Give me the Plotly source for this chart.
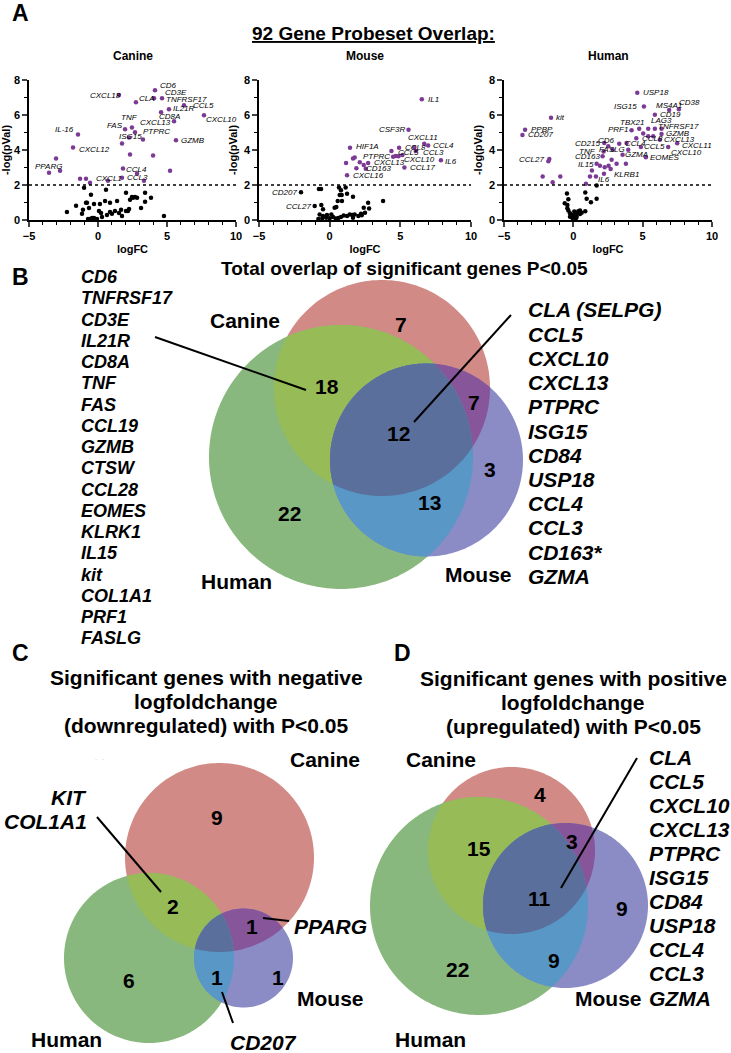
import numpy as np
import plotly.graph_objects as go

W, H = 731, 1053
FONT = "Liberation Sans, Arial, sans-serif"

# ---------------- panel A data: volcano plots (logFC, -log(pVal)) ----------------
CANINE_SIG_FC = [4.13, 1.52, 4.06, 4.64, 2.75, 6.23, 5.14, 7.68, 4.57, 5.51, 2.46, 1.96, 2.68,
                 -1.45, 2.25, 3.26, 5.65, 1.74, -1.81, 2.32, 3.99, -3.04, -3.55, -2.75, 1.81,
                 2.83, 5.22, -1.30, -0.87, -0.58, 0.72, 1.74, 3.33]
CANINE_SIG_P = [7.42, 7.14, 6.96, 6.96, 6.73, 6.56, 6.33, 5.99, 6.16, 5.64, 5.29, 5.18, 5.01,
                4.89, 4.72, 4.60, 4.55, 4.37, 4.14, 3.74, 3.68, 3.51, 2.70, 2.82, 2.94,
                2.65, 2.82, 2.36, 2.36, 2.13, 2.24, 2.42, 2.24]
CANINE_SIG_GENE = ["CD6", "CXCL18", "TNFRSF17", "CD3E", "CLA", "CCL5", "IL21R", "CXCL10", "CD8A",
                   "CXCL13", "TNF", "FAS", "", "IL-16", "ISG15", "PTPRC", "GZMB", "", "CXCL12",
                   "", "", "", "PPARG", "", "CCL4", "CCL3", "", "", "CXCL1", "", "", "", ""]
CANINE_NS_FC = [-1.01, -1.59, -2.25, -0.51, -0.80, -0.65, -1.09, -1.16, -0.87, -0.29, 0.07, 0.14,
                0.58, 0.51, 0.87, 1.38, 0.87, 1.23, 1.52, 1.67, 1.74, 2.03, 2.17, 2.25, 2.03,
                2.32, 2.46, 2.54, 2.68, 2.83, 3.12, 3.41, 3.84, 3.41, 4.78, 0.29, -0.43, -0.29,
                -0.07, -0.72, -0.58, 0.65, 1.01, 0.22]
CANINE_NS_P = [1.84, 0.81, 0.46, 1.44, 0.98, 0.69, 0.58, 0.35, 0.98, 0.92, 0.52, 0.92,
               1.73, 1.09, 0.98, 1.09, 0.46, 0.52, 0.40, 0.58, 0.23, 0.52, 0.52, 0.63, 1.55,
               1.15, 1.32, 1.27, 1.32, 1.27, 0.69, 1.04, 1.27, 1.55, 0.23, 0.17, 0.12, 0.12,
               0.06, 0.06, 0.06, 0.29, 0.35, 0.40]

MOUSE_SIG_FC = [6.52, 5.58, 6.69, 6.97, 5.98, 6.09, 1.44, 4.37, 4.91, 4.68, 5.15, 1.77, 1.65,
                1.16, 2.13, 2.72, 2.41, 7.87, 5.29, 1.89, 2.55, 1.23, 4.49, 4.87]
MOUSE_SIG_P = [6.90, 5.16, 4.36, 4.25, 4.15, 3.94, 4.13, 3.94, 4.13, 3.66, 3.71, 3.57, 3.52,
               3.26, 3.30, 3.26, 3.14, 3.41, 3.00, 2.95, 2.93, 2.55, 3.62, 3.64]
MOUSE_SIG_GENE = ["IL1", "CSF3R", "CXCL11", "CCL4", "CCL8", "CCL3", "HIF1A", "", "", "CCL5",
                  "CXCL10", "", "", "", "PTPRC", "CXCL13", "", "IL6", "CCL17", "", "CD163",
                  "CXCL16", "", ""]
MOUSE_NS_FC = [-2.03, -1.06, -0.76, -0.61, 0.66, 0.80, 1.13, 0.71, 0.85, 1.23, 1.65, 0.57, 0.87,
               0.35, 0.47, -0.59, 3.78, 2.72, 2.79, 2.50, 2.22, 1.77, 1.61, 1.42, 1.23, 0.99,
               -0.47, -0.71, -0.47, -0.24, 0.00, 0.24, 0.43, 0.61, 0.80, -0.52, -0.80, -0.19,
               0.12, 2.03, 2.27, 1.65, 2.41]
MOUSE_NS_P = [1.58, 0.80, 1.77, 1.77, 1.85, 1.70, 1.85, 1.43, 1.43, 1.50, 1.33, 1.09, 1.09,
              0.70, 0.74, 0.86, 1.09, 0.99, 0.65, 0.42, 0.36, 0.32, 0.29, 0.32, 0.23, 0.25,
              0.61, 0.32, 0.23, 0.13, 0.10, 0.17, 0.08, 0.11, 0.17, 0.10, 0.06, 0.29,
              0.32, 0.23, 0.27, 0.13, 0.70]
MOUSE_NS_GENE = ["CD207", "CCL27"] + [""] * 41

HUMAN_SIG_FC = [4.61, 5.09, 6.91, 7.61, 5.88, -1.61, -3.48, -3.67, 5.40, 4.75, 5.88, 4.20, 6.36,
                5.04, 5.40, 4.54, 6.24, 7.49, 6.84, 2.23, 3.31, 3.84, 4.87, 2.52, 2.83, 2.18,
                3.96, 2.11, 3.55, 5.23, -1.73, -1.80, 1.68, 3.79, 2.69, 1.92, 2.26, 2.54, 1.34,
                2.21, -2.21, -0.94, -1.49, 1.20, 0.91, 1.63, 2.76, 3.12, 5.76, 6.36]
HUMAN_SIG_P = [7.27, 6.49, 6.28, 6.33, 6.01, 5.84, 5.15, 4.86, 5.21, 5.21, 5.21, 5.13, 4.92,
               4.94, 4.78, 4.67, 4.59, 4.38, 4.17, 4.40, 4.36, 4.40, 4.17, 4.21, 4.02, 3.92,
               4.02, 3.64, 3.73, 3.58, 3.48, 3.35, 3.22, 3.22, 2.91, 3.10, 3.02, 3.10, 2.83,
               2.64, 2.49, 2.49, 2.16, 2.49, 2.07, 2.49, 3.44, 3.22, 4.78, 5.21]
HUMAN_SIG_GENE = ["USP18", "ISG15", "MS4A1", "CD38", "CD19", "kit", "PPBP", "CD207", "LAG3",
                  "TBX21", "TNFRSF17", "PRF1", "GZMB", "", "", "CCL8", "CXCL13", "CXCL11",
                  "CXCL10", "CD215", "CD6", "CCL4", "CCL5", "", "", "TNF", "FASLG", "CD163",
                  "GZMA", "EOMES", "CCL27", "", "IL15", "", "KLRB1", "", "", "", "", "IL6",
                  "", "", "", "", "", "", "", "", "", ""]
HUMAN_NS_FC = [1.68, 0.86, 0.96, 1.27, 1.68, -0.46, -0.36, -0.62, -0.43, 0.86, -0.24, -0.12,
               0.00, 0.12, 0.24, 0.36, 0.48, 0.24, -0.36, 0.07, 0.17, 0.48, 0.60, -0.24, -0.05,
               0.19, -0.43]
HUMAN_NS_P = [1.97, 1.57, 1.22, 1.01, 1.22, 1.51, 1.19, 0.96, 0.86, 0.50, 0.38, 0.29,
              0.23, 0.34, 0.42, 0.50, 0.54, 0.19, 0.54, 0.48, 0.34, 0.34, 0.42, 0.19, 0.10,
              0.10, 0.67]

SIG_CUTOFF = 2
X_TICKS = [-5, 0, 5, 10]
Y_TICKS = [0, 2, 4, 6, 8]

# ---------------- panels B-D data: Venn counts and gene lists ----------------
B_COUNTS = {"C": 7, "CH": 18, "CM": 7, "CHM": 12, "M": 3, "HM": 13, "H": 22}
C_COUNTS = {"C": 9, "CH": 2, "CM": 1, "H": 6, "HM": 1, "M": 1}
D_COUNTS = {"C": 4, "CH": 15, "CM": 3, "CHM": 11, "M": 9, "HM": 9, "H": 22}

B_SHARED_CH = ["CD6", "TNFRSF17", "CD3E", "IL21R", "CD8A", "TNF", "FAS", "CCL19", "GZMB", "CTSW",
               "CCL28", "EOMES", "KLRK1", "IL15", "kit", "COL1A1", "PRF1", "FASLG"]
B_SHARED_ALL = ["CLA (SELPG)", "CCL5", "CXCL10", "CXCL13", "PTPRC", "ISG15", "CD84", "USP18",
                "CCL4", "CCL3", "CD163*", "GZMA"]
C_SHARED_CH = ["KIT", "COL1A1"]
C_SHARED_CM = ["PPARG"]
C_SHARED_HM = ["CD207"]
D_SHARED_ALL = ["CLA", "CCL5", "CXCL10", "CXCL13", "PTPRC", "ISG15", "CD84", "USP18", "CCL4",
                "CCL3", "GZMA"]

# ---------------- label placement for volcano points (px: dx, dy(down), anchor) ----------------
CANINE_POS = {"CD6": (4, -5, "l"), "CXCL18": (3, 0, "r"), "TNFRSF17": (11, 1, "l"),
              "CD3E": (2, -6, "l"), "CLA": (2, -4, "l"), "CCL5": (8, 0, "l"),
              "IL21R": (3, -1, "l"), "CXCL10": (1, 4, "l"), "CD8A": (-3, 4, "l"),
              "CXCL13": (-2, 1, "r"), "TNF": (-2, -10, "c"), "FAS": (-1, -4, "r"),
              "IL-16": (-3, -5, "r"), "ISG15": (1, -1, "c"), "PTPRC": (-1, -8, "l"),
              "GZMB": (4, 0, "l"), "CXCL12": (5, 2, "l"), "PPARG": (-1, -6, "c"),
              "CCL4": (2, 1, "l"), "CXCL1": (9, 0, "l"), "CCL3": (0, 4, "c")}
MOUSE_POS = {"IL1": (5, 0, "l"), "CSF3R": (-3, 0, "r"), "CXCL11": (-1, -6, "c"),
             "CCL4": (4, 0, "l"), "CCL8": (1, 0, "c"), "CCL3": (6, 1, "l"), "HIF1A": (5, -1, "l"),
             "CCL5": (1, -3, "l"), "CXCL10": (1, 4, "l"), "PTPRC": (2, -6, "l"),
             "CXCL13": (5, 0, "l"), "IL6": (3, 1, "l"), "CCL17": (5, 0, "l"),
             "CD163": (-1, 0, "l"), "CXCL16": (5, 0, "l"), "CD207": (-3, 0, "r"),
             "CCL27": (-3, 0, "r")}
HUMAN_POS = {"USP18": (5, 0, "l"), "ISG15": (-6, 0, "r"), "MS4A1": (0, -5, "c"),
             "CD38": (-1, -7, "l"), "CD19": (4, 0, "l"), "kit": (4, 0, "l"), "PPBP": (5, 0, "l"),
             "CD207": (5, 0, "l"), "LAG3": (2, -8, "l"), "TBX21": (6, -6, "r"),
             "TNFRSF17": (2, -2, "l"), "PRF1": (-3, -1, "r"), "GZMB": (3, 0, "l"),
             "CCL8": (5, 0, "l"), "CXCL13": (3, 0, "l"), "CXCL11": (4, 2, "l"),
             "CXCL10": (2, 5, "l"), "CD215": (-3, 0, "r"), "CD6": (-3, -3, "r"),
             "CCL4": (-3, 0, "l"), "CCL5": (2, -1, "l"), "TNF": (-7, 0, "r"),
             "FASLG": (-2, 0, "r"), "CD163": (-2, 0, "r"), "GZMA": (1, 0, "l"),
             "EOMES": (3, 0, "l"), "CCL27": (-4, 0, "r"), "IL15": (-2, 1, "r"),
             "KLRB1": (2, 5, "l"), "IL6": (0, 6, "c")}

PURPLE = "#7b3a94"
VENN_COLORS = {"C": "#d18a85", "H": "#88b87d", "M": "#8b8cc6", "CH": "#97bb57",
               "CM": "#86559a", "HM": "#5897c6", "CHM": "#5a6f9c"}


def fx(px):
    return px / W


def fy(py):
    return 1 - py / H


def txt(px, py, text, size, anchor="center", color="black"):
    return dict(x=fx(px), y=fy(py), xref="paper", yref="paper", text=text, showarrow=False,
                xanchor=anchor, yanchor="middle", font=dict(family=FONT, size=size, color=color))


def seg(x0, y0, x1, y1, width=2):
    return dict(type="line", xref="paper", yref="paper", x0=fx(x0), y0=fy(y0), x1=fx(x1),
                y1=fy(y1), line=dict(color="black", width=width))


def circle(cx, cy, r, n=240):
    t = np.linspace(0, 2 * np.pi, n, endpoint=False)
    return list(zip(cx + r * np.cos(t), cy + r * np.sin(t)))


def clip(subject, clipper):
    # Sutherland-Hodgman, clipper is convex and counter-clockwise in raw coords
    def inside(p, a, b):
        return (b[0] - a[0]) * (p[1] - a[1]) - (b[1] - a[1]) * (p[0] - a[0]) >= 0

    def cross_pt(s, e, a, b):
        x1, y1, x2, y2 = s[0], s[1], e[0], e[1]
        x3, y3, x4, y4 = a[0], a[1], b[0], b[1]
        den = (x1 - x2) * (y3 - y4) - (y1 - y2) * (x3 - x4)
        t = ((x1 - x3) * (y3 - y4) - (y1 - y3) * (x3 - x4)) / den
        return (x1 + t * (x2 - x1), y1 + t * (y2 - y1))

    out = subject
    for i in range(len(clipper)):
        a, b = clipper[i - 1], clipper[i]
        inp, out = out, []
        if not inp:
            break
        s = inp[-1]
        for e in inp:
            if inside(e, a, b):
                if not inside(s, a, b):
                    out.append(cross_pt(s, e, a, b))
                out.append(e)
            elif inside(s, a, b):
                out.append(cross_pt(s, e, a, b))
            s = e
    return out


def poly_shape(pts, color):
    path = "M " + " L ".join(f"{fx(x):.5f},{fy(y):.5f}" for x, y in pts) + " Z"
    return dict(type="path", xref="paper", yref="paper", path=path, fillcolor=color,
                line=dict(width=0), layer="above")


def venn(circ):
    c, h, m = (circle(*circ[k]) for k in ("C", "H", "M"))
    regions = [(c, "C"), (h, "H"), (m, "M"), (clip(c, h), "CH"), (clip(c, m), "CM"),
               (clip(h, m), "HM"), (clip(clip(c, h), m), "CHM")]
    return [poly_shape(p, VENN_COLORS[k]) for p, k in regions if len(p) > 2]


fig = go.Figure()
shapes, annotations = [], []

# ---------------- panel A ----------------
panels = [
    ("Canine", "", (29, 236), CANINE_SIG_FC, CANINE_SIG_P, CANINE_SIG_GENE,
     CANINE_NS_FC, CANINE_NS_P, [""] * len(CANINE_NS_FC), CANINE_POS),
    ("Mouse", "2", (259, 471), MOUSE_SIG_FC, MOUSE_SIG_P, MOUSE_SIG_GENE,
     MOUSE_NS_FC, MOUSE_NS_P, MOUSE_NS_GENE, MOUSE_POS),
    ("Human", "3", (504, 712), HUMAN_SIG_FC, HUMAN_SIG_P, HUMAN_SIG_GENE,
     HUMAN_NS_FC, HUMAN_NS_P, [""] * len(HUMAN_NS_FC), HUMAN_POS),
]
plot_top, plot_bot = 80, 220
anchors = {"l": "left", "r": "right", "c": "center"}
for name, k, (left, right), sfc, sp, sg, nfc, np_, ng, pos in panels:
    xr, yr = "x" + k, "y" + k
    fig.add_trace(go.Scatter(x=nfc, y=np_, mode="markers", xaxis=xr, yaxis=yr,
                             marker=dict(color="black", size=4.5), cliponaxis=False,
                             showlegend=False, hoverinfo="skip"))
    fig.add_trace(go.Scatter(x=sfc, y=sp, mode="markers", xaxis=xr, yaxis=yr,
                             marker=dict(color=PURPLE, size=4.5), cliponaxis=False,
                             showlegend=False, hoverinfo="skip"))
    for fc, p, g in list(zip(sfc, sp, sg)) + list(zip(nfc, np_, ng)):
        if not g:
            continue
        dx, dy, a = pos[g]
        annotations.append(dict(x=fc, y=p, xref=xr, yref=yr, text=f"<i>{g}</i>",
                                showarrow=False, xanchor=anchors[a], yanchor="middle",
                                xshift=dx, yshift=-dy, borderpad=0,
                                font=dict(family=FONT, size=8, color="black")))
    shapes.append(dict(type="line", xref=xr, yref=yr, x0=X_TICKS[0], x1=X_TICKS[-1],
                       y0=SIG_CUTOFF, y1=SIG_CUTOFF, line=dict(color="black", width=1.3, dash="dot")))
    tf = dict(family=FONT, size=11, color="black", weight="bold")
    fig.update_layout({
        "xaxis" + k: dict(domain=[fx(left), fx(right)], anchor=yr, range=[X_TICKS[0], X_TICKS[-1]],
                          tickvals=X_TICKS, ticks="outside", ticklen=5, tickwidth=1.5,
                          showline=True, linewidth=1.5, linecolor="black", showgrid=False,
                          zeroline=False, tickfont=tf, automargin=False, fixedrange=True,
                          minor=dict(ticks="outside", ticklen=3, tickwidth=1.2, dtick=1,
                                     tickcolor="black"),
                          title=dict(text="logFC", font=tf, standoff=4)),
        "yaxis" + k: dict(domain=[fy(plot_bot), fy(plot_top)], anchor=xr,
                          range=[Y_TICKS[0], Y_TICKS[-1]], tickvals=Y_TICKS, ticks="outside",
                          ticklen=5, tickwidth=1.5, showline=True, linewidth=1.5,
                          linecolor="black", showgrid=False, zeroline=False, tickfont=tf,
                          automargin=False, fixedrange=True,
                          minor=dict(ticks="outside", ticklen=3, tickwidth=1.2, dtick=1,
                                     tickcolor="black"),
                          title=dict(text="-log(pVal)", font=tf, standoff=4)),
    })
    annotations.append(txt((left + right) / 2, 56, f"<b>{name}</b>", 12))

annotations.append(txt(20, 13, "<b>A</b>", 23))
title = txt(373, 33, "<b>92 Gene Probeset Overlap:</b>", 19)
title["font"]["lineposition"] = "under"
annotations.append(title)

# ---------------- panel B ----------------
shapes += venn({"C": (382, 388, 108), "H": (341, 457, 132), "M": (426.5, 460, 96.5)})
annotations.append(txt(20, 277, "<b>B</b>", 23))
annotations.append(txt(404, 269, "<b>Total overlap of significant genes P<0.05</b>", 19))
for key, (px, py) in {"C": (401, 324), "CH": (327, 386), "CM": (474, 403), "CHM": (399, 434),
                      "M": (490, 469), "HM": (429, 502), "H": (289, 513)}.items():
    annotations.append(txt(px, py, f"<b>{B_COUNTS[key]}</b>", 21))
for lab, (px, py) in {"Canine": (245, 321), "Human": (236, 581), "Mouse": (479, 574)}.items():
    annotations.append(txt(px, py, f"<b>{lab}</b>", 21))
for i, g in enumerate(B_SHARED_CH):
    annotations.append(txt(79, 277 + i * 21.25, f"<b><i>{g}</i></b>", 18, "left"))
for i, g in enumerate(B_SHARED_ALL):
    annotations.append(txt(526, 310 + i * 24.2, f"<b><i>{g}</i></b>", 21, "left"))
shapes += [seg(155, 337, 306, 390), seg(511, 315, 414, 422)]

# ---------------- panel C ----------------
shapes += venn({"C": (219.5, 857.5, 94.5), "H": (149, 958, 85), "M": (243.5, 958, 49.5)})
annotations.append(txt(20, 653, "<b>C</b>", 23))
for i, line in enumerate(["Significant genes with negative", "logfoldchange",
                          "(downregulated) with P<0.05"]):
    annotations.append(txt(206, 677 + i * 24.3, f"<b>{line}</b>", 21))
for key, (px, py) in {"C": (217, 817), "CH": (173, 906), "CM": (252, 926), "H": (129, 980),
                      "HM": (217, 977), "M": (278, 977)}.items():
    annotations.append(txt(px, py, f"<b>{C_COUNTS[key]}</b>", 21))
for lab, (px, py) in {"Canine": (325, 759), "Human": (66, 1039), "Mouse": (330, 998)}.items():
    annotations.append(txt(px, py, f"<b>{lab}</b>", 21))
for i, g in enumerate(C_SHARED_CH):
    annotations.append(txt(89, 797 + i * 24.3, f"<b><i>{g}</i></b>", 21, "right"))
annotations.append(txt(292, 926, f"<b><i>{C_SHARED_CM[0]}</i></b>", 21, "left"))
annotations.append(txt(263, 1042, f"<b><i>{C_SHARED_HM[0]}</i></b>", 21))
annotations.append(txt(99, 759, "·   ·", 6, color="#888888"))
shapes += [seg(97, 817, 161, 892), seg(263, 918, 289, 921), seg(222, 992, 233, 1023)]

# ---------------- panel D ----------------
shapes += venn({"C": (511.5, 850.5, 83.5), "H": (479, 906, 109), "M": (565.5, 905.5, 82.5)})
annotations.append(txt(402, 653, "<b>D</b>", 23))
for i, line in enumerate(["Significant genes with positive", "logfoldchange",
                          "(upregulated) with P<0.05"]):
    annotations.append(txt(573, 678 + i * 24.3, f"<b>{line}</b>", 21))
for key, (px, py) in {"C": (540, 794), "CH": (479, 848), "CM": (572, 841), "CHM": (539, 898),
                      "M": (622, 908), "HM": (554, 960), "H": (457, 969)}.items():
    annotations.append(txt(px, py, f"<b>{D_COUNTS[key]}</b>", 21))
for lab, (px, py) in {"Canine": (441, 759), "Human": (430, 1039), "Mouse": (608, 998)}.items():
    annotations.append(txt(px, py, f"<b>{lab}</b>", 21))
for i, g in enumerate(D_SHARED_ALL):
    annotations.append(txt(647, 757 + i * 24.1, f"<b><i>{g}</i></b>", 21, "left"))
shapes.append(seg(637, 758, 561, 888))

fig.update_layout(width=W, height=H, margin=dict(l=0, r=0, t=0, b=0), autosize=False,
                  paper_bgcolor="white", plot_bgcolor="rgba(0,0,0,0)",
                  shapes=shapes, annotations=annotations, showlegend=False,
                  font=dict(family=FONT, color="black"))
fig.write_html("out.html", config={"displayModeBar": False},
               post_script="document.body.style.margin='0';document.body.style.padding='0';"
                           "document.body.style.overflow='hidden';")
